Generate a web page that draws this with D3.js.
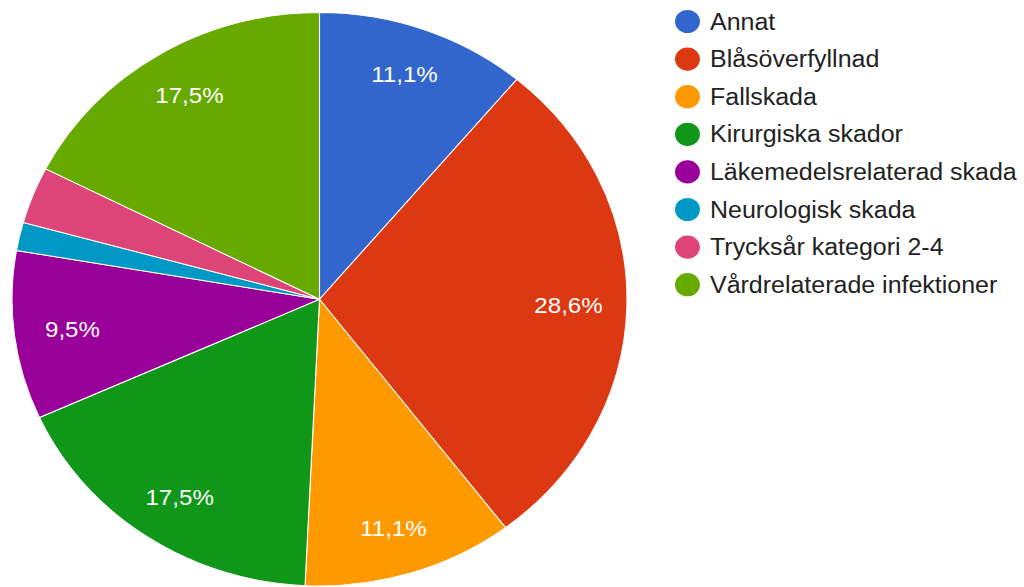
<!DOCTYPE html>
<html>
<head>
<meta charset="utf-8">
<script src="https://cdn.jsdelivr.net/npm/d3@7"></script>
<style>
  html, body { margin: 0; padding: 0; background: #ffffff; }
  svg { display: block; }
  text { font-family: "Liberation Sans", Arial, sans-serif; }
</style>
</head>
<body>
<svg id="chart" width="1024" height="587"></svg>
<script>
const categories = [
  "Annat",
  "Blåsöverfyllnad",
  "Fallskada",
  "Kirurgiska skador",
  "Läkemedelsrelaterad skada",
  "Neurologisk skada",
  "Trycksår kategori 2-4",
  "Vårdrelaterade infektioner"
];
const percentValues = [11.1, 28.6, 11.1, 17.5, 9.5, 1.6, 3.2, 17.5];
const sliceColors = ["#3366cc", "#dc3912", "#ff9900", "#109618", "#990099", "#0099c6", "#dd4477", "#66aa00"];
const labelThreshold = 5; // percent; smaller slices get no label

const W = 1024, H = 587;
const sx = 1.0725; // the reference is slightly stretched horizontally
const cx = 319.5 / sx, cy = 299.3, r = 286.7;
const kx = 0.81, ky = 0.835; // label distance factors

const svg = d3.select("#chart");
const root = svg.append("g").attr("transform", `scale(${sx},1)`);

const data = categories.map((c, i) => ({ cat: c, value: percentValues[i], color: sliceColors[i] }));

const pie = d3.pie().value(d => d.value).sort(null);
const arc = d3.arc().innerRadius(0).outerRadius(r);
const labelArc = d3.arc().innerRadius(r).outerRadius(r);
const arcs = pie(data);

const g = root.append("g").attr("transform", `translate(${cx},${cy})`);

g.selectAll("path.slice")
  .data(arcs)
  .join("path")
  .attr("class", "slice")
  .attr("d", arc)
  .attr("fill", d => d.data.color)
  .attr("stroke", "#ffffff")
  .attr("stroke-width", 1);

const fmt = v => v.toFixed(1).replace(".", ",") + "%";

g.selectAll("text.lbl")
  .data(arcs.filter(d => d.data.value >= labelThreshold))
  .join("text")
  .attr("class", "lbl")
  .attr("transform", d => {
    const [px, py] = labelArc.centroid(d);
    return `translate(${px * kx},${py * ky})`;
  })
  .attr("text-anchor", "middle")
  .attr("dominant-baseline", "central")
  .attr("fill", "#ffffff")
  .attr("font-size", 22.5)
  .text(d => fmt(d.data.value));

// Legend
const legX = 641, legY0 = 21.5, legStep = 37.6;
const leg = root.append("g");
const items = leg.selectAll("g.item")
  .data(data)
  .join("g")
  .attr("class", "item")
  .attr("transform", (d, i) => `translate(${legX},${legY0 + i * legStep})`);

items.append("circle")
  .attr("r", 11.6)
  .attr("fill", d => d.color);

items.append("text")
  .attr("x", 21)
  .attr("y", 0)
  .attr("dominant-baseline", "central")
  .attr("font-size", 23.3)
  .attr("fill", "#222222")
  .text(d => d.cat);
</script>
</body>
</html>
